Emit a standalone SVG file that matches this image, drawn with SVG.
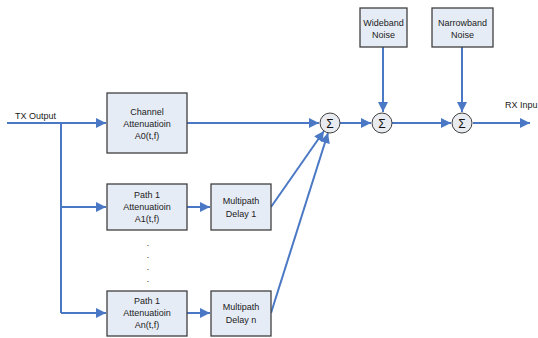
<svg xmlns="http://www.w3.org/2000/svg" width="538" height="338" viewBox="0 0 538 338">
<defs>
<marker id="ah" viewBox="0 0 10 10" refX="10" refY="5" markerWidth="11" markerHeight="10" markerUnits="userSpaceOnUse" orient="auto">
<path d="M0,0 L10,5 L0,10 z" fill="#4a78c4"/>
</marker>
<style>
.box{fill:#e6ecf6;stroke:#404040;stroke-width:1.3}
.sum{fill:#e8ebef;stroke:#404040;stroke-width:1}
.ln{fill:none;stroke:#4a78c4;stroke-width:2}
.arr{fill:none;stroke:#4a78c4;stroke-width:2;marker-end:url(#ah)}
.t{font-family:"Liberation Sans",Arial,sans-serif;font-size:9px;fill:#222;text-anchor:middle}
.s{font-family:"Liberation Sans",Arial,sans-serif;font-size:12px;fill:#111;text-anchor:middle}
.lbl{font-family:"Liberation Sans",Arial,sans-serif;font-size:9px;fill:#222}
</style>
</defs>
<rect width="538" height="338" fill="#fff"/>
<g id="connectors">
<path class="arr" d="M7,123 H106"/>
<path class="ln" d="M61,123 V313"/>
<path class="arr" d="M61,207 H106"/>
<path class="arr" d="M61,313 H106"/>
<path class="arr" d="M187,207 H210"/>
<path class="arr" d="M187,313 H210"/>
<path class="arr" d="M187,123 H319"/>
<path class="arr" d="M271,207 L324,131"/>
<path class="arr" d="M271,313 L328,133"/>
<path class="arr" d="M340,123 H371"/>
<path class="arr" d="M392,123 H451"/>
<path class="arr" d="M383,47 V112"/>
<path class="arr" d="M462,47 V112"/>
<path class="arr" d="M473,123 H530"/>
</g>
<g id="tx-label"><text class="lbl" x="15" y="119">TX Output</text></g>
<g id="rx-label"><text class="lbl" x="505" y="108">RX Inpu</text></g>
<g id="channel-attenuation">
<rect class="box" x="107" y="93" width="80" height="60"/>
<text class="t" x="147" y="115">Channel</text>
<text class="t" x="147" y="127">Attenuatioin</text>
<text class="t" x="147" y="139">A0(t,f)</text>
</g>
<g id="path1-attenuation">
<rect class="box" x="107" y="184" width="80" height="46"/>
<text class="t" x="147" y="198">Path 1</text>
<text class="t" x="147" y="210">Attenuatioin</text>
<text class="t" x="147" y="222">A1(t,f)</text>
</g>
<g id="pathn-attenuation">
<rect class="box" x="107" y="291" width="80" height="45"/>
<text class="t" x="147" y="304">Path 1</text>
<text class="t" x="147" y="316">Attenuatioin</text>
<text class="t" x="147" y="328">An(t,f)</text>
</g>
<g id="dots">
<text class="t" x="148" y="246">.</text>
<text class="t" x="148" y="258">.</text>
<text class="t" x="148" y="270">.</text>
<text class="t" x="148" y="282">.</text>
</g>
<g id="delay1">
<rect class="box" x="211" y="184" width="60" height="46"/>
<text class="t" x="241" y="204">Multipath</text>
<text class="t" x="241" y="217">Delay 1</text>
</g>
<g id="delayn">
<rect class="box" x="211" y="291" width="60" height="45"/>
<text class="t" x="241" y="310">Multipath</text>
<text class="t" x="241" y="323">Delay n</text>
</g>
<g id="wideband-noise">
<rect class="box" x="360" y="8" width="47" height="39"/>
<text class="t" x="383.5" y="26">Wideband</text>
<text class="t" x="383.5" y="38">Noise</text>
</g>
<g id="narrowband-noise">
<rect class="box" x="432" y="8" width="61" height="39"/>
<text class="t" x="462.5" y="26">Narrowband</text>
<text class="t" x="462.5" y="38">Noise</text>
</g>
<g id="sum1"><circle class="sum" cx="330" cy="123" r="10"/><text class="s" x="330" y="127.5">Σ</text></g>
<g id="sum2"><circle class="sum" cx="382" cy="123" r="10"/><text class="s" x="382" y="127.5">Σ</text></g>
<g id="sum3"><circle class="sum" cx="462" cy="123" r="10"/><text class="s" x="462" y="127.5">Σ</text></g>
</svg>
